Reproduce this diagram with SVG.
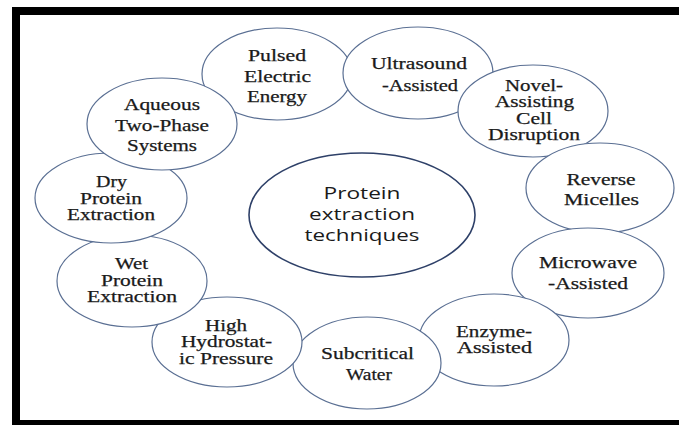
<svg xmlns="http://www.w3.org/2000/svg" width="679" height="425" viewBox="0 0 679 425">
<style>
.n{fill:#ffffff;stroke:#5a6f93;stroke-width:1.2}
.c{fill:#ffffff;stroke:#2e4068;stroke-width:1.6}
.t{font-family:"Liberation Serif","Times New Roman",serif;font-size:16px;fill:#1a1a1a;stroke:#1a1a1a;stroke-width:0.25;text-anchor:middle}
.ct{font-family:"Open Sans","Noto Sans","Liberation Sans",sans-serif;font-size:16.5px;fill:#1a1a1a;text-anchor:middle}
</style>
<rect x="0" y="0" width="679" height="425" fill="#ffffff"/>
<rect x="16" y="11" width="700" height="413" fill="none" stroke="#000000" stroke-width="8"/>
<g id="connectors"/>
<g id="pulsed">
<ellipse class="n" cx="277" cy="74" rx="75" ry="46"/>
<text class="t" x="277" y="61" textLength="58" lengthAdjust="spacingAndGlyphs">Pulsed</text>
<text class="t" x="277.5" y="82" textLength="67" lengthAdjust="spacingAndGlyphs">Electric</text>
<text class="t" x="277" y="102" textLength="60" lengthAdjust="spacingAndGlyphs">Energy</text>
</g>
<g id="ultrasound">
<ellipse class="n" cx="418" cy="73" rx="75" ry="46"/>
<text class="t" x="419" y="69" textLength="96" lengthAdjust="spacingAndGlyphs">Ultrasound</text>
<text class="t" x="420" y="91" textLength="76" lengthAdjust="spacingAndGlyphs">-Assisted</text>
</g>
<g id="novel">
<ellipse class="n" cx="533" cy="111" rx="75" ry="46"/>
<text class="t" x="534" y="91" textLength="58" lengthAdjust="spacingAndGlyphs">Novel-</text>
<text class="t" x="534.5" y="107" textLength="79" lengthAdjust="spacingAndGlyphs">Assisting</text>
<text class="t" x="534" y="124" textLength="36" lengthAdjust="spacingAndGlyphs">Cell</text>
<text class="t" x="534" y="139.5" textLength="92" lengthAdjust="spacingAndGlyphs">Disruption</text>
</g>
<g id="reverse">
<ellipse class="n" cx="600" cy="188" rx="74" ry="45"/>
<text class="t" x="601" y="185" textLength="69" lengthAdjust="spacingAndGlyphs">Reverse</text>
<text class="t" x="601.5" y="205" textLength="75" lengthAdjust="spacingAndGlyphs">Micelles</text>
</g>
<g id="microwave">
<ellipse class="n" cx="588" cy="273" rx="76" ry="45"/>
<text class="t" x="588" y="268" textLength="98" lengthAdjust="spacingAndGlyphs">Microwave</text>
<text class="t" x="588" y="289" textLength="80" lengthAdjust="spacingAndGlyphs">-Assisted</text>
</g>
<g id="enzyme">
<ellipse class="n" cx="494" cy="340" rx="75" ry="46"/>
<text class="t" x="494" y="337" textLength="76" lengthAdjust="spacingAndGlyphs">Enzyme-</text>
<text class="t" x="494.5" y="353" textLength="75" lengthAdjust="spacingAndGlyphs">Assisted</text>
</g>
<g id="subcritical">
<ellipse class="n" cx="367" cy="363" rx="74" ry="46"/>
<text class="t" x="367.5" y="359" textLength="93" lengthAdjust="spacingAndGlyphs">Subcritical</text>
<text class="t" x="369" y="380" textLength="46" lengthAdjust="spacingAndGlyphs">Water</text>
</g>
<g id="high">
<ellipse class="n" cx="227" cy="342" rx="75" ry="45"/>
<text class="t" x="226" y="330.5" textLength="42" lengthAdjust="spacingAndGlyphs">High</text>
<text class="t" x="226.5" y="347" textLength="91" lengthAdjust="spacingAndGlyphs">Hydrostat-</text>
<text class="t" x="226" y="364" textLength="94" lengthAdjust="spacingAndGlyphs">ic Pressure</text>
</g>
<g id="wet">
<ellipse class="n" cx="132" cy="281" rx="75" ry="46"/>
<text class="t" x="131.5" y="269" textLength="33" lengthAdjust="spacingAndGlyphs">Wet</text>
<text class="t" x="132" y="285.5" textLength="62" lengthAdjust="spacingAndGlyphs">Protein</text>
<text class="t" x="132" y="302" textLength="90" lengthAdjust="spacingAndGlyphs">Extraction</text>
</g>
<g id="dry">
<ellipse class="n" cx="111" cy="198" rx="76" ry="45"/>
<text class="t" x="111.5" y="187" textLength="31" lengthAdjust="spacingAndGlyphs">Dry</text>
<text class="t" x="111" y="204" textLength="62" lengthAdjust="spacingAndGlyphs">Protein</text>
<text class="t" x="111" y="219.5" textLength="88" lengthAdjust="spacingAndGlyphs">Extraction</text>
</g>
<g id="aqueous">
<ellipse class="n" cx="162" cy="124" rx="75" ry="46"/>
<text class="t" x="162" y="110" textLength="76" lengthAdjust="spacingAndGlyphs">Aqueous</text>
<text class="t" x="162" y="131" textLength="94" lengthAdjust="spacingAndGlyphs">Two-Phase</text>
<text class="t" x="162" y="151" textLength="70" lengthAdjust="spacingAndGlyphs">Systems</text>
</g>
<g id="center">
<ellipse class="c" cx="362" cy="215" rx="113" ry="62"/>
<text class="ct" x="362" y="198.5" textLength="77" lengthAdjust="spacingAndGlyphs">Protein</text>
<text class="ct" x="362" y="220" textLength="106" lengthAdjust="spacingAndGlyphs">extraction</text>
<text class="ct" x="362" y="241" textLength="115" lengthAdjust="spacingAndGlyphs">techniques</text>
</g>
</svg>
